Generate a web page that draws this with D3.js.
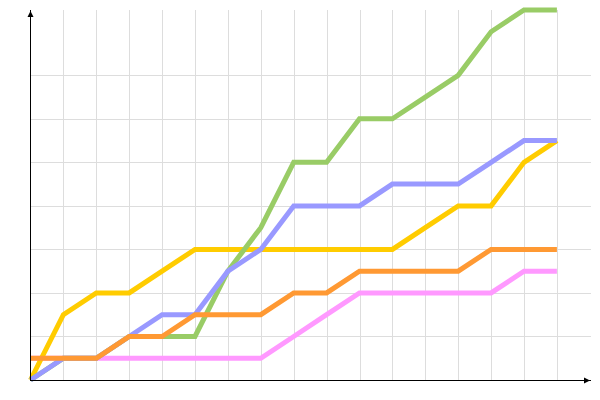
<!DOCTYPE html>
<html>
<head>
<meta charset="utf-8">
<script src="https://cdn.jsdelivr.net/npm/d3@7"></script>
<style>
html,body{margin:0;padding:0;background:#fff;}
svg{display:block;}
</style>
</head>
<body>
<svg id="chart" width="600" height="400"></svg>
<script>
// Data
const xIndex = d3.range(0, 17);
const pink   = [1,1,1,1,1,1,1,1,2,3,4,4,4,4,4,5,5];
const yellow = [0,3,4,4,5,6,6,6,6,6,6,6,7,8,8,10,11];
const green  = [0,1,1,2,2,2,5,7,10,10,12,12,13,14,16,17,17];
const blue   = [0,1,1,2,3,3,5,6,8,8,8,9,9,9,10,11,11];
const orange = [1,1,1,2,2,3,3,3,4,4,5,5,5,5,6,6,6];
const xGridTicks = d3.range(1, 17);
const yGridTicks = [2,4,6,8,10,12,14];

const series = [
  {name:"pink",   values:pink,   color:"#ff99ff"},
  {name:"yellow", values:yellow, color:"#ffcc00"},
  {name:"green",  values:green,  color:"#99cc66"},
  {name:"blue",   values:blue,   color:"#9999ff"},
  {name:"orange", values:orange, color:"#ff9933"}
];

const svg = d3.select("#chart");
const x = d3.scaleLinear().domain([0,17]).range([30.5, 589.8]);
const y = d3.scaleLinear().domain([0,17]).range([380, 10]);

const crisp = v => Math.round(v - 0.5) + 0.5;

// grid via axes
const gx = svg.append("g")
  .attr("transform", `translate(0,${y(0)})`)
  .call(d3.axisBottom(x).tickValues(xGridTicks).tickFormat("").tickSizeInner(-(y(0)-y(17))).tickSizeOuter(0));
gx.select(".domain").remove();
gx.selectAll(".tick line").attr("stroke","#dddddd").attr("shape-rendering","crispEdges");

const gy = svg.append("g")
  .attr("transform", `translate(${x(0)},0)`)
  .call(d3.axisLeft(y).tickValues(yGridTicks).tickFormat("").tickSizeInner(-(x(17)-x(0)+1)).tickSizeOuter(0));
gy.select(".domain").remove();
gy.selectAll(".tick line").attr("stroke","#dddddd").attr("shape-rendering","crispEdges");

// lines
const line = d3.line().x((d,i)=>x(xIndex[i])).y(d=>y(d));
svg.append("g").selectAll("path").data(series).join("path")
  .attr("d", d=>line(d.values))
  .attr("fill","none")
  .attr("stroke", d=>d.color)
  .attr("stroke-width", 5)
  .attr("stroke-linejoin","miter")
  .attr("stroke-linecap","butt");

// axes with arrows
const ax0 = crisp(x(0)), ay0 = crisp(y(0));
svg.append("line").attr("x1",ax0).attr("x2",ax0).attr("y1",ay0).attr("y2",10)
  .attr("stroke","#000").attr("stroke-width",1).attr("shape-rendering","crispEdges");
svg.append("line").attr("x1",ax0).attr("x2",591).attr("y1",ay0).attr("y2",ay0)
  .attr("stroke","#000").attr("stroke-width",1).attr("shape-rendering","crispEdges");
svg.append("path").attr("d",`M${ax0},11 L${ax0+3},17 L${ax0-3},17 Z`).attr("fill","#000");
svg.append("path").attr("d",`M590,${ay0} L584,${ay0-3} L584,${ay0+3} Z`).attr("fill","#000");
</script>
</body>
</html>
